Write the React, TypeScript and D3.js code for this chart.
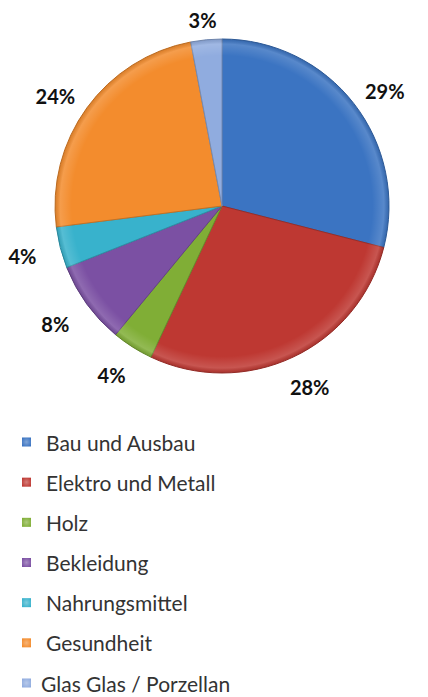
import { useMemo } from 'react';
import * as d3 from 'd3';

// Share of each trade group (in percent), clockwise from 12 o'clock
const categories = [
  'Bau und Ausbau',
  'Elektro und Metall',
  'Holz',
  'Bekleidung',
  'Nahrungsmittel',
  'Gesundheit',
  'Glas Glas / Porzellan',
];
const values = [29, 28, 4, 8, 4, 24, 3];
const labels = ['29%', '28%', '4%', '8%', '4%', '24%', '3%'];
const colors = ['#3b74c2', '#be3832', '#80ae36', '#7b50a3', '#38b2cc', '#f38c2d', '#90acdf'];

interface Slice {
  name: string;
  value: number;
  label: string;
  color: string;
}

export default function App() {
  const width = 428;
  const height = 697;
  const cx = 222;
  const cy = 206;
  const radius = 167;

  const slices: Slice[] = categories.map((name, i) => ({
    name,
    value: values[i],
    label: labels[i],
    color: colors[i],
  }));

  const pie = d3.pie<Slice>().sort(null).value(d => d.value);
  const arcs = useMemo(() => pie(slices), []);

  const arc = d3.arc<d3.PieArcDatum<Slice>>().innerRadius(0).outerRadius(radius);

  // label position: a bit outside of the rim, Excel pulls the top ones in a little
  const labelPos = (d: d3.PieArcDatum<Slice>): [number, number] => {
    const a = (d.startAngle + d.endAngle) / 2;
    const s = Math.sin(a);
    const c = Math.cos(a);
    const ry = c > 0 ? 187 : 200;
    return [cx + 206 * s, cy - ry * c];
  };

  // legend rows
  const legendY = d3.scalePoint<string>()
    .domain(categories)
    .range([442, 683]);

  return (
    <svg
      width={width}
      height={height}
      style={{ position: 'absolute', left: 0, top: 0, background: '#fff' }}
    >
      <defs>
        <radialGradient id="rim" cx={0} cy={0} r={radius} gradientUnits="userSpaceOnUse">
          <stop offset="0.9" stopColor="#fff" stopOpacity={0} />
          <stop offset="0.97" stopColor="#fff" stopOpacity={0.15} />
          <stop offset="1" stopColor="#000" stopOpacity={0.1} />
        </radialGradient>
        <radialGradient id="sq" cx="0.5" cy="0.5" r="0.6">
          <stop offset="0" stopColor="#fff" stopOpacity={0.35} />
          <stop offset="1" stopColor="#fff" stopOpacity={0} />
        </radialGradient>
      </defs>

      <g transform={`translate(${cx},${cy})`}>
        {arcs.map((d, i) => (
          <path
            key={i}
            d={arc(d) as string}
            fill={d.data.color}
            stroke={d3.color(d.data.color)!.darker(0.6).formatHex()}
            strokeWidth={1}
            strokeLinejoin="round"
          />
        ))}
        {arcs.map((d, i) => (
          <path
            key={'rim' + i}
            d={arc(d) as string}
            fill="url(#rim)"
          />
        ))}
      </g>

      {arcs.map((d, i) => {
        const [x, y] = labelPos(d);
        return (
          <text
            key={i}
            x={x}
            y={y}
            textAnchor="middle"
            dominantBaseline="central"
            fontFamily="Lato, 'Open Sans', sans-serif"
            fontWeight="bold"
            fontSize={20}
            fill="#111"
          >
            {d.data.label}
          </text>
        );
      })}

      <g>
        {slices.map((d, i) => {
          const y = legendY(d.name) ?? 0;
          return (
            <g key={i} transform={`translate(0,${y})`}>
              <rect x={22} y={-4.5} width={9} height={9} fill={d.color} />
              <rect x={22} y={-4.5} width={9} height={9} fill="url(#sq)" />
              <text
                x={i === 6 ? 41 : 46}
                y={0}
                dominantBaseline="central"
                fontFamily="Lato, 'Open Sans', sans-serif"
                fontSize={21}
                fill="#333"
              >
                {d.name}
              </text>
            </g>
          );
        })}
      </g>
    </svg>
  );
}
